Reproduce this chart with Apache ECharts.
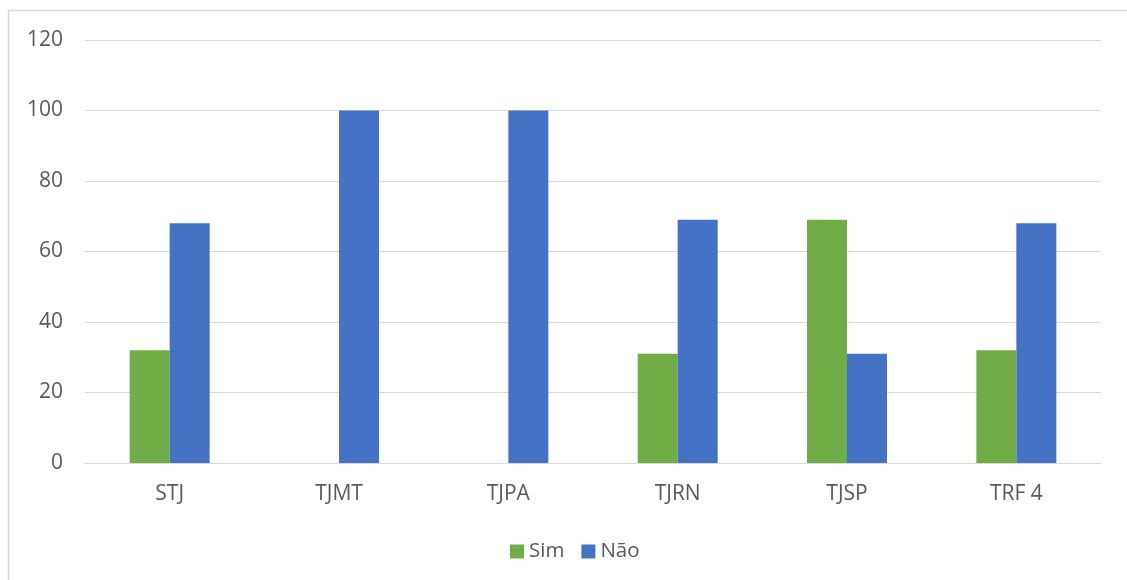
<!DOCTYPE html>
<html>
<head>
<meta charset="utf-8">
<script src="https://cdn.jsdelivr.net/npm/echarts@6/dist/echarts.min.js"></script>
<style>
  html, body { margin: 0; padding: 0; background: #ffffff; }
  #chart { width: 1127px; height: 580px; }
</style>
</head>
<body>
<div id="chart"></div>
<script>
// Tribunais e respostas por categoria
const categories = ['STJ', 'TJMT', 'TJPA', 'TJRN', 'TJSP', 'TRF 4'];
const simValues = [32, 0, 0, 31, 69, 32];
const naoValues = [68, 100, 100, 69, 31, 68];
const seriesNames = ['Sim', 'Não'];

const textFont = '"Open Sans", "Liberation Sans", sans-serif';
const textColor = '#595959';

const chart = echarts.init(document.getElementById('chart'), null, { renderer: 'canvas' });

chart.setOption({
  animation: false,
  backgroundColor: '#ffffff',
  // Frame: only the top and left edges fall inside the canvas
  graphic: [{
    type: 'rect',
    shape: { x: 8.5, y: 10.5, width: 1200, height: 620 },
    style: { fill: 'none', stroke: '#d9d9d9', lineWidth: 1.5 },
    silent: true,
    z: -1
  }],
  grid: { left: 85, right: 26, top: 40, bottom: 117, containLabel: false },
  legend: {
    data: seriesNames,
    top: 536,
    left: 505,
    itemWidth: 14,
    itemHeight: 14,
    itemGap: 17,
    icon: 'rect',
    textStyle: { fontFamily: textFont, fontSize: 20.5, color: textColor }
  },
  xAxis: {
    type: 'category',
    data: categories,
    axisLine: { show: true, lineStyle: { color: '#d9d9d9', width: 1 } },
    axisTick: { show: false },
    axisLabel: { fontFamily: textFont, fontSize: 21, color: textColor, margin: 21 }
  },
  yAxis: {
    type: 'value',
    min: 0,
    max: 120,
    interval: 20,
    axisLine: { show: false },
    axisTick: { show: false },
    axisLabel: { fontFamily: textFont, fontSize: 21, color: textColor, margin: 22 },
    splitLine: { lineStyle: { color: '#d9d9d9', width: 1 } }
  },
  series: [
    {
      name: seriesNames[0],
      type: 'bar',
      data: simValues,
      barWidth: 40,
      barGap: '0%',
      itemStyle: { color: '#70ad47' }
    },
    {
      name: seriesNames[1],
      type: 'bar',
      data: naoValues,
      barWidth: 40,
      barGap: '0%',
      itemStyle: { color: '#4472c4' }
    }
  ]
});
</script>
</body>
</html>
